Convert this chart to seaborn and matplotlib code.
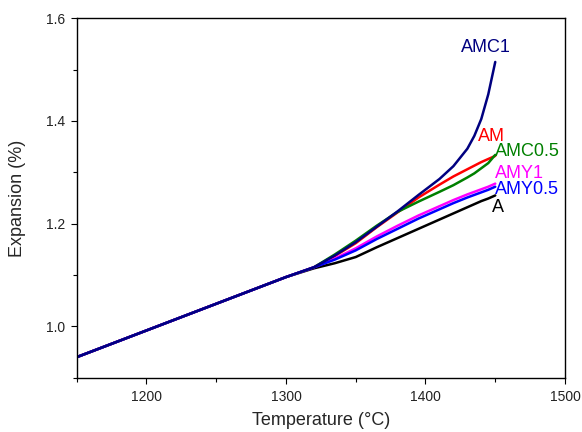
import numpy as np
import pandas as pd
import matplotlib
matplotlib.use("Agg")
import matplotlib.pyplot as plt
import seaborn as sns

sns.set_theme(style="ticks")
plt.rcParams['font.family'] = ['Liberation Sans', 'DejaVu Sans']

#%% Dados
temperature = [1150, 1200, 1250, 1300, 1320, 1335, 1350, 1365, 1380, 1395,
               1410, 1420, 1430, 1435, 1440, 1445, 1450]

exp_A      = [0.940, 0.992, 1.044, 1.096, 1.113, 1.123, 1.135, 1.154, 1.172, 1.190,
              1.208, 1.220, 1.232, 1.238, 1.244, 1.249, 1.255]
exp_AM     = [0.940, 0.992, 1.044, 1.096, 1.115, 1.137, 1.162, 1.193, 1.222, 1.251,
              1.276, 1.292, 1.306, 1.313, 1.320, 1.326, 1.332]
exp_AMC05  = [0.940, 0.992, 1.044, 1.096, 1.115, 1.140, 1.167, 1.196, 1.223, 1.243,
              1.262, 1.275, 1.290, 1.298, 1.308, 1.318, 1.334]
exp_AMC1   = [0.940, 0.992, 1.044, 1.096, 1.115, 1.138, 1.164, 1.194, 1.224, 1.256,
              1.287, 1.312, 1.346, 1.371, 1.404, 1.452, 1.515]
exp_AMY1   = [0.940, 0.992, 1.044, 1.096, 1.115, 1.132, 1.152, 1.175, 1.196, 1.216,
              1.234, 1.246, 1.257, 1.262, 1.267, 1.272, 1.278]
exp_AMY05  = [0.940, 0.992, 1.044, 1.096, 1.115, 1.130, 1.148, 1.170, 1.190, 1.210,
              1.228, 1.240, 1.251, 1.256, 1.261, 1.266, 1.272]

samples = ["A", "AM", "AMC0.5", "AMY1", "AMY0.5", "AMC1"]
values = [exp_A, exp_AM, exp_AMC05, exp_AMY1, exp_AMY05, exp_AMC1]
colors = {"A": "black", "AM": "#ff0000", "AMC0.5": "#008000",
          "AMY1": "#ff00ff", "AMY0.5": "#0000ff", "AMC1": "#000080"}

# rótulos das curvas (posição em coordenadas de dados)
label_pos = {"AMC1": (1443.6, 1.543, "center"),
             "AM": (1437.5, 1.369, "left"),
             "AMC0.5": (1449.5, 1.341, "left"),
             "AMY1": (1449.5, 1.297, "left"),
             "AMY0.5": (1449.5, 1.266, "left"),
             "A": (1448.0, 1.232, "left")}

df = pd.concat([pd.DataFrame({"T": temperature, "exp": v, "amostra": s})
                for s, v in zip(samples, values)], ignore_index=True)

#%% Figura
fig = plt.figure(figsize=(5.82, 4.32), dpi=100)
ax = fig.add_axes([0.1318, 0.1257, 0.8390, 0.8319])

sns.lineplot(data=df, x="T", y="exp", hue="amostra", hue_order=samples,
             palette=colors, estimator=None, sort=False, linewidth=1.8,
             legend=False, ax=ax)

for s, (x, y, ha) in label_pos.items():
    ax.text(x, y, s, color=colors[s], fontsize=13, ha=ha, va="center")

ax.set_xlim(1150, 1500)
ax.set_ylim(0.9, 1.6)
ax.set_xticks([1200, 1300, 1400, 1500])
ax.set_xticks([1150, 1250, 1350, 1450], minor=True)
ax.set_yticks([1.0, 1.2, 1.4, 1.6])
ax.set_yticks([0.9, 1.1, 1.3, 1.5], minor=True)
ax.yaxis.set_major_formatter(matplotlib.ticker.FormatStrFormatter('%.1f'))
ax.tick_params(which='major', direction='out', length=4.5, width=0.8,
               labelsize=10, color='black', labelcolor='#222222', pad=4)
ax.tick_params(which='minor', direction='out', length=3, width=0.8, color='black')
for sp in ax.spines.values():
    sp.set_visible(True)
    sp.set_linewidth(1.0)
    sp.set_color('black')

ax.set_xlabel("Temperature (°C)", fontsize=13, labelpad=6)
ax.set_ylabel("Expansion (%)", fontsize=13, labelpad=14)

plt.savefig("out.png", dpi=100)
